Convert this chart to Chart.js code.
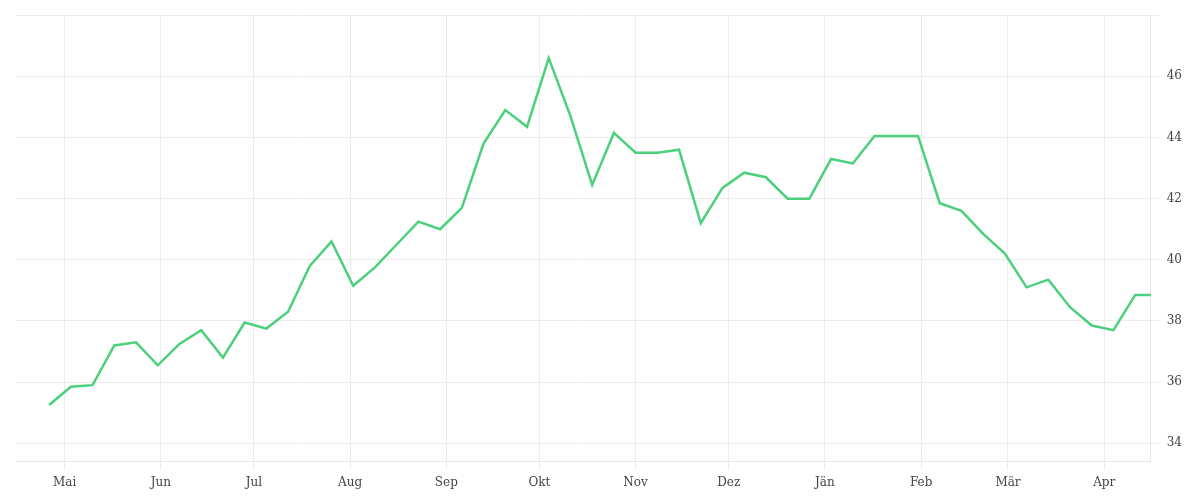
<!DOCTYPE html>
<html><head><meta charset="utf-8">
<script src="https://cdn.jsdelivr.net/npm/chart.js@4/dist/chart.umd.min.js"></script>
<style>html,body{margin:0;background:#fff}#w{width:1200px;height:500px}</style>
</head><body><div id="w"><canvas id="c"></canvas></div>
<script>
// weekly values, first point 5 days before 1 May
const startDay = -5;
const stepDays = 7;
const values = [35.25,35.85,35.9,37.2,37.3,36.55,37.25,37.7,36.8,37.95,37.75,38.3,39.8,40.6,39.15,39.75,40.5,41.25,41.0,41.7,43.8,44.9,44.35,46.6,44.7,42.45,44.15,43.5,43.5,43.6,41.2,42.35,42.85,42.7,42.0,42.0,43.3,43.15,44.05,44.05,44.05,41.85,41.6,40.85,40.2,39.1,39.35,38.45,37.85,37.7,38.85,38.85];
const monthNames = ["Mai","Jun","Jul","Aug","Sep","Okt","Nov","Dez","Jän","Feb","Mär","Apr"];
const monthStarts = [0,31,61,92,123,153,184,214,245,276,304,335];
const yTicks = [34,36,38,40,42,44,46];

const pts = values.map((v,i)=>({x:startDay+i*stepDays,y:v}));
const font = {family:"'DejaVu Serif', serif", size:12};
new Chart(document.getElementById('c'),{
  type:'line',
  data:{datasets:[{data:pts,borderColor:'#4cd07d',borderWidth:2.5,pointRadius:0,tension:0,fill:false}]},
  options:{
    responsive:true,maintainAspectRatio:false,animation:false,
    layout:{padding:{left:15,top:8,right:10,bottom:4}},
    plugins:{legend:{display:false},tooltip:{enabled:false}},
    scales:{
      x:{type:'linear',min:-16,max:350,
        afterBuildTicks:a=>{a.ticks=monthStarts.map(v=>({value:v}));},
        ticks:{callback:(v)=>monthNames[monthStarts.indexOf(v)],color:'#444',font,maxRotation:0,autoSkip:false,padding:6},
        grid:{color:'#ececec',drawTicks:true,tickLength:8},border:{color:'#e6e6e6'}},
      y:{position:'right',min:33.4,max:48,
        afterBuildTicks:a=>{a.ticks=yTicks.concat([48]).map(v=>({value:v}));},
        ticks:{callback:v=>v===48?'':v,color:'#444',font,padding:8},
        grid:{color:'#ececec',tickLength:8},border:{color:'#e6e6e6'}}
    }
  }
});
</script></body></html>
